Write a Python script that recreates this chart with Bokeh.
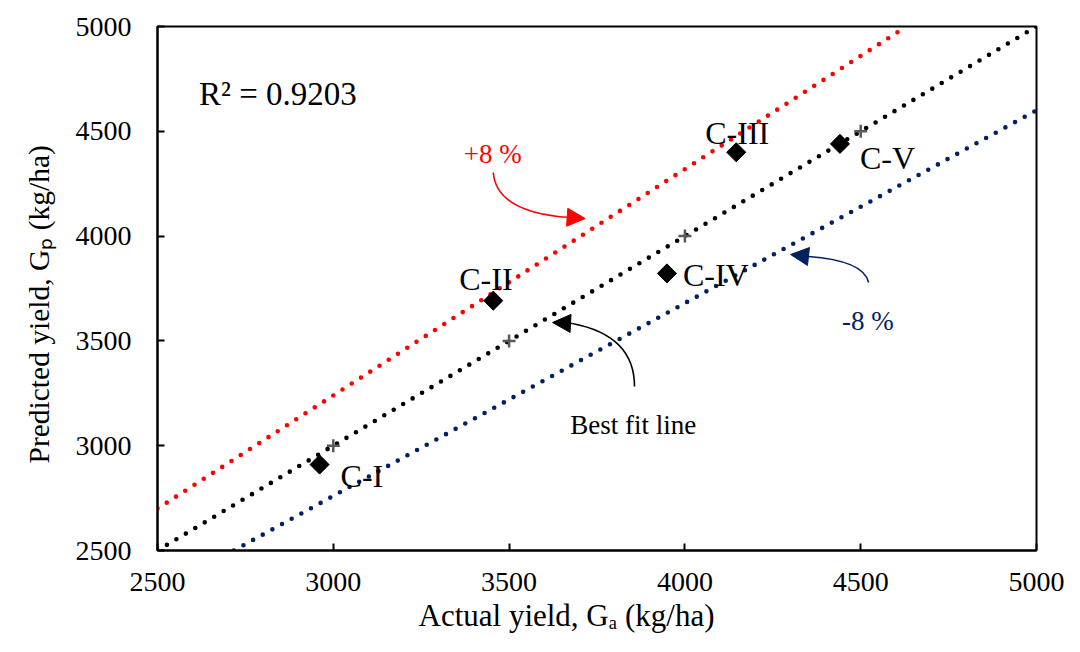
from bokeh.plotting import figure
from bokeh.models import (Label, Arrow, NormalHead, FixedTicker, Range1d,
                          ColumnDataSource, Title)
from bokeh.core.properties import value
from bokeh.embed import file_html
from bokeh.resources import INLINE
import math

# ---------------- data ----------------
case_labels = ["C-I", "C-II", "C-III", "C-IV", "C-V"]
actual_yield = [2961, 3455, 4146, 3949, 4441]
predicted_yield = [2910, 3692, 4400, 3822, 4440]

ref_x = [2500, 3000, 3500, 4000, 4500]
ref_y = [2500, 3000, 3500, 4000, 4500]

fit_x = [2500, 5000]
fit_y = [2500, 5000]
upper_x = [2500, 4630]
upper_y = [2700, 5000]
lower_x = [2717, 5000]
lower_y = [2500, 4600]

ticks = [2500, 3000, 3500, 4000, 4500, 5000]
r2_text = "R\u00b2 = 0.9203"
x_title = "Actual yield, G\u2090 (kg/ha)"
y_title = "Predicted yield, G\u209a (kg/ha)"

# label offsets (pixels) relative to the diamonds
label_dx = [21, -34, -31, 16, 20]
label_dy = [11, -22, -19, 2, 14]

FONT = "Liberation Serif"
RED = "#FF0000"
NAVY = "#002060"

# reference-image frame geometry, used to place annotations
RL, RR, RT, RB = 157, 1047, 26, 550


def px2x(px):
    return 2500 + (px - RL) * 2500 / (RR - RL)


def py2y(py):
    return 2500 + (RB - py) * 2500 / (RB - RT)


W, H = 1064, 636
FRAME_L, FRAME_R, FRAME_T, FRAME_B = 157, 1036, 26, 550

p = figure(width=W, height=H, x_range=Range1d(2500, 5000),
           y_range=Range1d(2500, 5000), output_backend="svg",
           toolbar_location=None, min_border_left=FRAME_L,
           min_border_right=W - FRAME_R, min_border_top=FRAME_T,
           min_border_bottom=H - FRAME_B)
p.background_fill_color = "white"
p.border_fill_color = "white"
p.outline_line_color = "black"
p.outline_line_width = 2
p.xgrid.visible = False
p.ygrid.visible = False

for ax in (p.xaxis[0], p.yaxis[0]):
    ax.ticker = FixedTicker(ticks=ticks)
    ax.axis_line_color = "black"
    ax.axis_line_width = 2
    ax.major_tick_line_color = "black"
    ax.major_tick_line_width = 2
    ax.major_tick_in = 7
    ax.major_tick_out = 0
    ax.minor_tick_line_color = None
    ax.major_label_text_font = FONT
    ax.major_label_text_font_size = "28px"
    ax.major_label_text_color = "black"
p.xaxis.major_label_standoff = 22
p.yaxis.major_label_standoff = 26

# axis titles
p.add_layout(Title(text=x_title, align="left", offset=418 - FRAME_L,
                   standoff=5, text_font=FONT, text_font_size="31px",
                   text_font_style="normal", text_color="black"), "below")
p.add_layout(Title(text=y_title, align="left", offset=FRAME_B - 463,
                   standoff=36, text_font=FONT, text_font_size="29.5px",
                   text_font_style="normal", text_color="black"), "left")

# lines
dot = dict(line_width=4.6, line_dash="0 11", line_cap="round")
p.line(upper_x, upper_y, line_color=RED, **dot)
p.line(fit_x, fit_y, line_color="black", **dot)
p.line(lower_x, lower_y, line_color=NAVY, **dot)

# reference (1:1) markers
p.scatter(ref_x, ref_y, marker="cross", size=13, line_width=2.5,
          line_color="#595959")

# data points
src = ColumnDataSource(dict(x=actual_yield, y=predicted_yield,
                            label=case_labels, dx=label_dx, dy=label_dy))
p.scatter("x", "y", source=src, marker="square", angle=math.pi / 4,
          size=13.5, fill_color="black", line_color="black")
p.text("x", "y", text="label", source=src, x_offset="dx", y_offset="dy",
       text_font=value(FONT), text_font_size="32px", text_color="black",
       text_align="left", text_baseline="alphabetic")

# curved arrows (reference pixel positions)
arrows = [
    # start, control, end of curve, tip, colour
    ((497, 172), (500, 212), (575, 217), (590, 218), RED),
    ((640, 386), (640, 335), (577, 323), (557, 322), "black"),
    ((877, 282), (872, 260), (816, 256), (798, 254), NAVY),
]
for (s, c, e, t, col) in arrows:
    p.quadratic(x0=[px2x(s[0])], y0=[py2y(s[1])], x1=[px2x(e[0])],
                y1=[py2y(e[1])], cx=[px2x(c[0])], cy=[py2y(c[1])],
                line_color=col, line_width=1.6)
    p.add_layout(Arrow(end=NormalHead(size=18, fill_color=col, line_color=col,
                                      line_width=1),
                       x_start=px2x(e[0]), y_start=py2y(e[1]),
                       x_end=px2x(t[0]), y_end=py2y(t[1]),
                       line_color=col, line_width=1.6))


def lab(text, px, py, size, color="black"):
    p.add_layout(Label(x=px2x(px), y=py2y(py), text=text, text_font=FONT,
                       text_font_size=size, text_color=color,
                       text_align="left", text_baseline="alphabetic"))


lab(r2_text, 199, 93, "33px")
lab("+8 %", 467, 153, "27px", RED)
lab("-8 %", 850, 320, "27px", NAVY)
lab("Best fit line", 575, 424, "27px")

open("out.html", "w").write(file_html(p, INLINE))
